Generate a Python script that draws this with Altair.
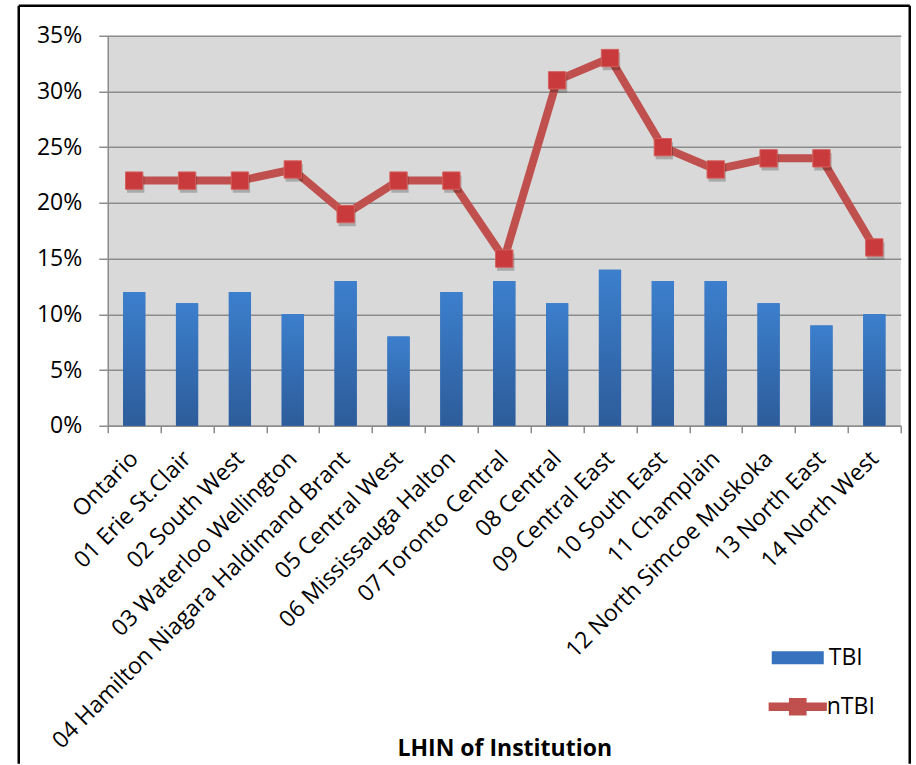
import altair as alt
import pandas as pd

categories = ["Ontario", "01 Erie St.Clair", "02 South West", "03 Waterloo Wellington",
              "04 Hamilton Niagara Haldimand Brant", "05 Central West", "06 Mississauga Halton",
              "07 Toronto Central", "08 Central", "09 Central East", "10 South East",
              "11 Champlain", "12 North Simcoe Muskoka", "13 North East", "14 North West"]
tbi = [0.12, 0.11, 0.12, 0.10, 0.13, 0.08, 0.12, 0.13, 0.11, 0.14, 0.13, 0.13, 0.11, 0.09, 0.10]
ntbi = [0.22, 0.22, 0.22, 0.23, 0.19, 0.22, 0.22, 0.15, 0.31, 0.33, 0.25, 0.23, 0.24, 0.24, 0.16]
y_ticks = [0, 0.05, 0.10, 0.15, 0.20, 0.25, 0.30, 0.35]

FONT = "Open Sans"
GRAY = "#8c8c8c"

df = pd.DataFrame({"lhin": categories, "TBI": tbi, "nTBI": ntbi})
df["s_tbi"] = "TBI"
df["s_ntbi"] = "nTBI"

x_enc = alt.X("lhin:N", sort=categories,
              scale=alt.Scale(paddingInner=0, paddingOuter=0),
              axis=alt.Axis(title="LHIN of Institution", labelAngle=-45, labelFont=FONT,
                            labelFontSize=23, labelColor="black", labelLimit=600,
                            labelAlign="right", labelBaseline="middle",
                            labelPadding=22, tickBand="extent", tickSize=7, tickColor=GRAY,
                            tickWidth=1.5, domainColor=GRAY, domainWidth=1.5, grid=False,
                            titleFont=FONT, titleFontSize=23, titleFontWeight="bold",
                            titleColor="black", titleY=330, titleBaseline="alphabetic"))
x_plain = alt.X("lhin:N", sort=categories)
y_scale = alt.Scale(domain=[0, 0.35], nice=False)
y_axis = alt.Axis(values=y_ticks, format=".0%", grid=True, gridColor=GRAY, gridWidth=1.5,
                  tickSize=9, tickColor=GRAY, tickWidth=1.5, domainColor=GRAY, domainWidth=1.5,
                  labelFont=FONT, labelFontSize=23, labelColor="black", labelPadding=17,
                  title=None)

base = alt.Chart(df)

bar_legend = base.mark_bar(width={"band": 0.42}).encode(
    x=x_enc,
    y=alt.Y("TBI:Q", scale=y_scale, axis=y_axis),
    fill=alt.Fill("s_tbi:N", scale=alt.Scale(domain=["TBI"], range=["#3672bd"]),
                  legend=alt.Legend(orient="none", legendX=664, legendY=596, title=None,
                                    symbolType="M-1,-0.25H1V0.25H-1Z", symbolSize=2704,
                                    symbolStrokeWidth=0,
                                    labelFont=FONT, labelFontSize=23, labelColor="black",
                                    labelOffset=5)),
)

bar_grad = base.mark_bar(
    width={"band": 0.42},
    color=alt.Gradient(gradient="linear",
                       stops=[alt.GradientStop(color="#3c7fcd", offset=0),
                              alt.GradientStop(color="#2d5c9a", offset=1)],
                       x1=0, x2=0, y1=0, y2=1),
).encode(x=x_plain, y="TBI:Q")

line = base.mark_line(strokeWidth=8, strokeCap="round", strokeJoin="round").encode(
    x=x_plain,
    y="nTBI:Q",
    stroke=alt.Stroke("s_ntbi:N", scale=alt.Scale(domain=["nTBI"], range=["#c0504d"]),
                      legend=alt.Legend(orient="none", legendX=664, legendY=645, title=None,
                                        symbolType="M-1.12,-0.16H1.12V0.16H-1.12Z M-0.34,-0.34H0.34V0.34H-0.34Z",
                                        symbolSize=2704, symbolFillColor="#c0504d",
                                        symbolStrokeWidth=0,
                                        labelFont=FONT, labelFontSize=23, labelColor="black",
                                        labelOffset=3)),
)

shadow = base.mark_point(shape="square", filled=True, size=300, color="#000000",
                         opacity=0.22, xOffset=1.5, yOffset=3.5).encode(x=x_plain, y="nTBI:Q")
points = base.mark_point(shape="square", filled=True, size=300, fill="#c83a3b",
                         stroke="#d6605d", strokeWidth=1, opacity=1).encode(x=x_plain, y="nTBI:Q")

frame_df = pd.DataFrame({"d": [0]})
frame = alt.Chart(frame_df)
left_rule = frame.mark_rule(color="black", strokeWidth=2.5).encode(
    x=alt.value(-89), y=alt.value(-30), y2=alt.value(728))
right_rule = frame.mark_rule(color="black", strokeWidth=2.5).encode(
    x=alt.value(802), y=alt.value(-30), y2=alt.value(728))
top_rule = frame.mark_rule(color="black", strokeWidth=2.5).encode(
    x=alt.value(-89), x2=alt.value(802), y=alt.value(-30))

chart = alt.layer(bar_legend, bar_grad, line, shadow, points, left_rule, right_rule, top_rule).resolve_legend(
    fill="independent", stroke="independent"
).properties(
    width=793, height=390,
    padding={"left": 16.75, "top": 3.75, "right": 4, "bottom": 0},
    background="white",
).configure_view(fill="#d9d9d9", stroke=None)

chart.save("out.html", embed_options={"renderer": "svg", "actions": False})
